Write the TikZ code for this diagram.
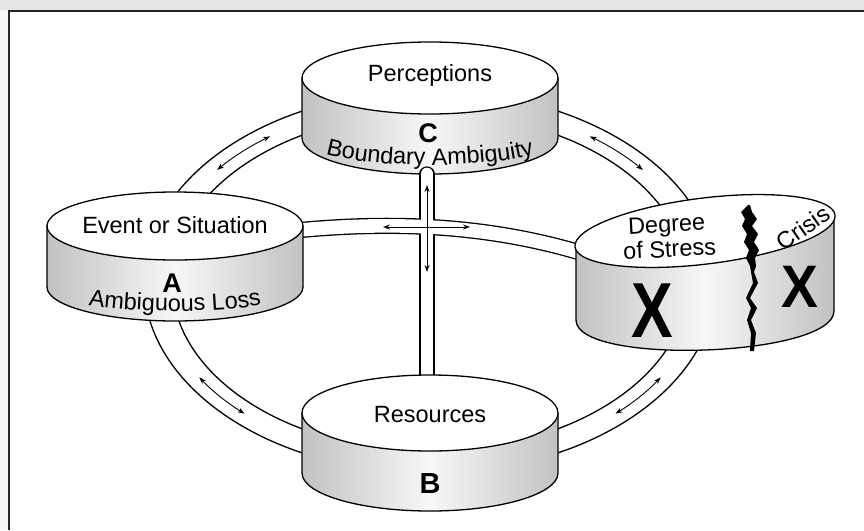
\documentclass[tikz,border=0pt]{standalone}
\usepackage{fontspec}
\setmainfont{Liberation Sans}
\usetikzlibrary{arrows.meta,decorations.text}
\newcommand\mycyl[5]{%
  \shade[left color=black!24, right color=black!24, middle color=black!3]
    (#1-#3,#2) -- (#1-#3,#2-#5) arc[start angle=180,end angle=360,x radius=#3,y radius=#4] -- (#1+#3,#2) -- cycle;
  \draw[cyl] (#1-#3,#2) -- (#1-#3,#2-#5) arc[start angle=180,end angle=360,x radius=#3,y radius=#4] -- (#1+#3,#2);
  \draw[cyl, fill=white] (#1,#2) ellipse[x radius=#3, y radius=#4];
}
\begin{document}
\begin{tikzpicture}[x=1pt,y=1pt,
  wall/.style={line width=1.3pt},
  cyl/.style={line width=1.3pt, draw=black},
  lbl/.style={font=\fontsize{23.5}{28}\selectfont, inner sep=0pt, anchor=base},
  big/.style={font=\bfseries\fontsize{27}{32}\selectfont, inner sep=0pt, anchor=base},
  bigx/.style={font=\bfseries\fontsize{78}{90}\selectfont, inner sep=0pt, anchor=base},
  dbl/.style={{Stealth[length=7pt,width=5pt]}-{Stealth[length=7pt,width=5pt]}, line width=0.9pt},
  chanout/.style={line width=16.2pt, draw=black},
  chanin/.style={line width=13.6pt, draw=white},
]
\useasboundingbox (0,0) rectangle (864,-530);
% frame
\fill[white] (0,0) rectangle (864,-530);
\fill[black!10] (0,0) rectangle (864,-10);
\fill[black!3] (0,-10) rectangle (7.5,-530);
\draw[line width=2.2pt, black!85] (7.5,-11) -- (864,-11);
\draw[line width=2pt, black!85] (8.5,-11) -- (8.5,-530);

% ring channel
\draw[wall] (430,-282) ellipse[x radius=286, y radius=191];
\draw[wall] (430,-282) ellipse[x radius=258, y radius=169];

% C: Perceptions
\mycyl{430}{-78}{128}{36}{60}
\coordinate (Ctop) at (427,-174);
\coordinate (Bbot) at (427,-392);
\coordinate (Aend) at (290,-231);
\coordinate (Dend) at (585,-254);

% cross channels
\draw[chanout, line cap=round, line width=15.3pt] (Ctop) -- (Bbot);
\draw[chanout] (Aend) .. controls (380,-222) and (480,-222) .. (Dend);
\draw[chanin, line cap=round, line width=12.7pt] (Ctop) -- (Bbot);
\draw[chanin] (Aend) .. controls (380,-222) and (480,-222) .. (Dend);
\coordinate (vu) at (427,-185);
\coordinate (vd) at (427,-272);
\coordinate (hl) at (383,-227);
\coordinate (hr) at (470,-227);
\draw[dbl] (vu) -- (vd);
\draw[dbl] (hl) -- (hr);

% ring arrows
\draw[dbl, shift={(430,-282)}] (141.5:272 and 180) arc[start angle=141.5,end angle=126,x radius=272,y radius=180];
\draw[dbl, shift={(430,-282)}] (54:272 and 180) arc[start angle=54,end angle=38.5,x radius=272,y radius=180];
\draw[dbl, shift={(430,-282)}] (212:272 and 180) arc[start angle=212,end angle=227,x radius=272,y radius=180];
\draw[dbl, shift={(430,-282)}] (313:272 and 180) arc[start angle=313,end angle=328,x radius=272,y radius=180];

% A and B
\mycyl{175}{-226}{128}{34}{61}
\mycyl{430}{-413}{128}{38}{60}

% D: degree of stress / crisis
\shade[left color=black!24, right color=black!24, middle color=black!3]
  (576,-247) -- (576,-320) .. controls (576,-366) and (834,-357) .. (834,-311) -- (834,-215) -- cycle;
\draw[cyl] (576,-247) -- (576,-320) .. controls (576,-366) and (834,-357) .. (834,-311) -- (834,-215);
\draw[cyl, fill=white, rotate around={7:(705,-231)}] (705,-231) ellipse[x radius=131, y radius=33];

% crack
\fill[black] (748,-205) -- (741,-212) -- (745,-219) -- (742,-226) -- (747,-234) -- (744,-242)
  -- (749,-250) -- (746,-258) -- (750,-266) -- (751,-272) -- (753,-283) -- (746,-298)
  -- (751,-308) -- (747,-320) -- (751,-333) -- (750,-351) -- (754,-351) -- (756,-333)
  -- (751,-320) -- (757,-308) -- (750,-298) -- (758,-283) -- (754,-272) -- (756,-266)
  -- (755,-258) -- (759,-250) -- (754,-242) -- (758,-234) -- (752,-226) -- (757,-219)
  -- (752,-212) -- (750,-205) -- cycle;

% texts
\node[lbl] (perc) at (430,-81) {Perceptions};
\node[big] (lc) at (428,-142) {C};
\path[shift={(430,-141)}, decorate, decoration={text along path, text align=center,
  text={|\fontsize{23.5}{28}\selectfont|Boundary Ambiguity}}]
  (195:125 and 24) arc[start angle=195,end angle=345,x radius=125,y radius=24];

\node[lbl] (event) at (175,-233) {Event or Situation};
\node[big] (la) at (172,-292) {A};
\path[shift={(175,-292)}, decorate, decoration={text along path, text align=center,
  text={|\fontsize{23.5}{28}\selectfont|Ambiguous Loss}}]
  (195:118 and 19) arc[start angle=195,end angle=345,x radius=118,y radius=19];

\node[lbl] (res) at (430,-422) {Resources};
\node[big, font=\bfseries\fontsize{29}{32}\selectfont] (lb) at (430,-493) {B};

\node[lbl, rotate=3] (deg) at (667,-232) {Degree};
\node[lbl, rotate=3] (ofs) at (670,-257) {of Stress};
\node[font=\fontsize{23.5}{28}\selectfont, inner sep=0pt, rotate=35] (cri) at (803,-228) {Crisis};
\node[bigx, xscale=0.8] (x1) at (652,-337) {X};
\node[bigx, font=\bfseries\fontsize{60}{66}\selectfont, xscale=0.92] (x2) at (800,-307) {X};
\end{tikzpicture}
\end{document}
